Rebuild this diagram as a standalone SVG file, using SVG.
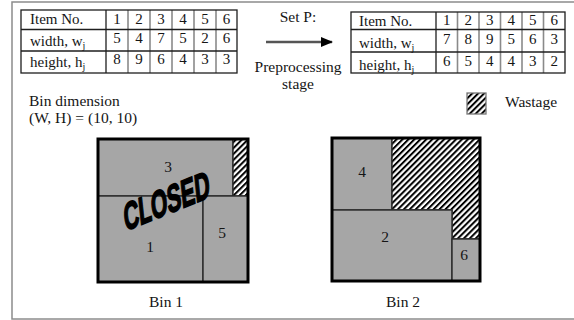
<svg xmlns="http://www.w3.org/2000/svg" width="574" height="320" viewBox="0 0 574 320">
  <defs>
    <pattern id="hatch" width="4.2" height="4.2" patternUnits="userSpaceOnUse" patternTransform="rotate(45)">
      <rect width="4.2" height="4.2" fill="#fff"/>
      <line x1="1" y1="0" x2="1" y2="4.2" stroke="#000" stroke-width="2"/>
    </pattern>
    <marker id="arrowhead" markerWidth="12" markerHeight="10" refX="11" refY="5" orient="auto" markerUnits="userSpaceOnUse">
      <path d="M0,0 L12,5 L0,10 Z" fill="#000"/>
    </marker>
  </defs>
  <style>
    text { font-family: "Liberation Serif", "Times New Roman", serif; fill: #151515; }
    .t { font-size: 15px; }
    .n { font-size: 15px; text-anchor: middle; }
    .lbl { font-size: 15.5px; }
    .mid { text-anchor: middle; }
    .sub { font-size: 10px; }
    .edge { stroke: #1e1e1e; stroke-width: 1.3; fill: none; }
    .col { stroke: #8a8a8a; stroke-width: 1.6; }
    .item { fill: #a6a6a6; stroke: #2a2a2a; stroke-width: 1.4; }
    .waste { fill: url(#hatch); stroke: #2a2a2a; stroke-width: 1.4; }
    .bin { fill: none; stroke: #000; stroke-width: 3; }
    .stamp { font-family: "Liberation Sans", Arial, sans-serif; font-weight: bold; font-size: 37px; fill: #000; stroke: #000; stroke-width: 1.6; text-anchor: middle; }
  </style>

  <!-- outer frame -->
  <rect x="12" y="2" width="600" height="317" fill="#fff" stroke="#8c8c8c" stroke-width="1.5"/>

  <!-- original item list -->
  <g id="table-original">
    <line class="col" x1="128" y1="10" x2="128" y2="73"/>
    <line class="col" x1="150" y1="10" x2="150" y2="73"/>
    <line class="col" x1="172" y1="10" x2="172" y2="73"/>
    <line class="col" x1="194" y1="10" x2="194" y2="73"/>
    <line class="col" x1="216" y1="10" x2="216" y2="73"/>
    <rect class="edge" x="21" y="10" width="216" height="63"/>
    <line class="edge" x1="21" y1="29.5" x2="237" y2="29.5"/>
    <line class="edge" x1="21" y1="51" x2="237" y2="51"/>
    <line class="edge" x1="106" y1="10" x2="106" y2="73"/>
    <text class="t" x="30" y="24">Item No.</text>
    <text class="t" x="30" y="45.5">width, w<tspan class="sub" dy="3">j</tspan></text>
    <text class="t" x="30" y="67">height, h<tspan class="sub" dy="3">j</tspan></text>
    <text class="n" x="117" y="24">1</text><text class="n" x="139" y="24">2</text><text class="n" x="161" y="24">3</text>
    <text class="n" x="183" y="24">4</text><text class="n" x="205" y="24">5</text><text class="n" x="226.5" y="24">6</text>
    <text class="n" x="117" y="42.5">5</text><text class="n" x="139" y="42.5">4</text><text class="n" x="161" y="42.5">7</text>
    <text class="n" x="183" y="42.5">5</text><text class="n" x="205" y="42.5">2</text><text class="n" x="226.5" y="42.5">6</text>
    <text class="n" x="117" y="64">8</text><text class="n" x="139" y="64">9</text><text class="n" x="161" y="64">6</text>
    <text class="n" x="183" y="64">4</text><text class="n" x="205" y="64">3</text><text class="n" x="226.5" y="64">3</text>
  </g>

  <!-- preprocessing step -->
  <g id="connectors">
    <line x1="266" y1="42" x2="332" y2="42" stroke="#555" stroke-width="2.5" marker-end="url(#arrowhead)"/>
  </g>
  <g id="step-label">
    <text class="lbl mid" x="298" y="22">Set P:</text>
    <text class="lbl mid" x="298" y="72">Preprocessing</text>
    <text class="lbl mid" x="298" y="89">stage</text>
  </g>

  <!-- sorted set P -->
  <g id="table-sorted">
    <line class="col" x1="457.5" y1="12" x2="457.5" y2="73"/>
    <line class="col" x1="479" y1="12" x2="479" y2="73"/>
    <line class="col" x1="500.5" y1="12" x2="500.5" y2="73"/>
    <line class="col" x1="522" y1="12" x2="522" y2="73"/>
    <line class="col" x1="543.5" y1="12" x2="543.5" y2="73"/>
    <rect class="edge" x="351" y="12" width="214" height="61"/>
    <line class="edge" x1="351" y1="29.5" x2="565" y2="29.5"/>
    <line class="edge" x1="351" y1="52" x2="565" y2="52"/>
    <line class="edge" x1="436" y1="12" x2="436" y2="73"/>
    <text class="t" x="359" y="25.5">Item No.</text>
    <text class="t" x="359" y="47.5">width, w<tspan class="sub" dy="3">j</tspan></text>
    <text class="t" x="359" y="69.5">height, h<tspan class="sub" dy="3">j</tspan></text>
    <text class="n" x="446.75" y="25">1</text><text class="n" x="468.25" y="25">2</text><text class="n" x="489.75" y="25">3</text>
    <text class="n" x="511.25" y="25">4</text><text class="n" x="532.75" y="25">5</text><text class="n" x="554.25" y="25">6</text>
    <text class="n" x="446.75" y="43.5">7</text><text class="n" x="468.25" y="43.5">8</text><text class="n" x="489.75" y="43.5">9</text>
    <text class="n" x="511.25" y="43.5">5</text><text class="n" x="532.75" y="43.5">6</text><text class="n" x="554.25" y="43.5">3</text>
    <text class="n" x="446.75" y="65.5">6</text><text class="n" x="468.25" y="65.5">5</text><text class="n" x="489.75" y="65.5">4</text>
    <text class="n" x="511.25" y="65.5">4</text><text class="n" x="532.75" y="65.5">3</text><text class="n" x="554.25" y="65.5">2</text>
  </g>

  <!-- bin size note -->
  <g id="bin-dimension">
    <text class="lbl" x="29" y="106">Bin dimension</text>
    <text class="lbl" x="29" y="122.5">(W, H) = (10, 10)</text>
  </g>

  <!-- legend -->
  <g id="legend">
    <rect x="467" y="93" width="19" height="21" fill="url(#hatch)" stroke="#777" stroke-width="1.3"/>
    <text class="lbl" x="505" y="107">Wastage</text>
  </g>

  <!-- bin 1 (closed) -->
  <g id="bin1">
    <rect class="item" x="98" y="139" width="135" height="57"/>
    <rect class="waste" x="233" y="139" width="15" height="57"/>
    <rect class="item" x="98" y="196" width="105" height="86"/>
    <rect class="item" x="203" y="196" width="45" height="86"/>
    <rect class="bin" x="98" y="139" width="150" height="143"/>
    <text class="lbl mid" x="168" y="172">3</text>
    <text class="lbl mid" x="150" y="252">1</text>
    <text class="lbl mid" x="222" y="238">5</text>
    <text class="stamp" transform="translate(168,214) rotate(-22) skewX(-16) scale(0.6,1)">CLOSED</text>
    <text class="lbl mid" x="166" y="307">Bin 1</text>
  </g>

  <!-- bin 2 -->
  <g id="bin2">
    <rect class="item" x="332" y="138" width="60" height="72"/>
    <path class="waste" d="M392,138 H480 V239 H452 V210 H392 Z"/>
    <rect class="item" x="332" y="210" width="120" height="71"/>
    <rect class="item" x="452" y="239" width="28" height="42"/>
    <rect class="bin" x="332" y="138" width="148" height="143"/>
    <text class="lbl mid" x="362" y="177">4</text>
    <text class="lbl mid" x="385" y="242">2</text>
    <text class="lbl mid" x="464" y="260">6</text>
    <text class="lbl mid" x="403" y="307">Bin 2</text>
  </g>
</svg>
